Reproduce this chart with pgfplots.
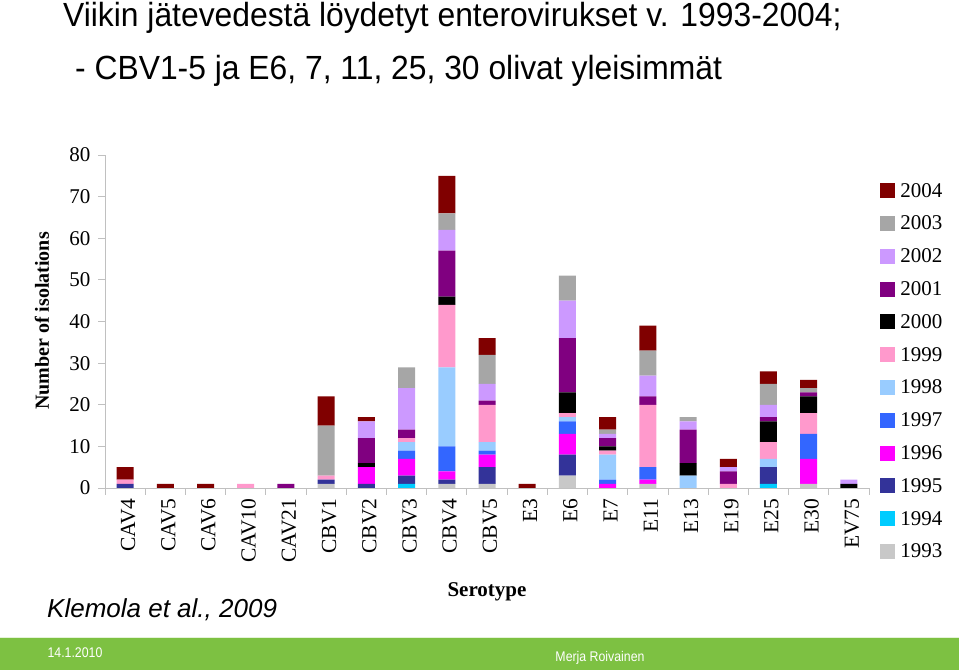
\documentclass[border=0pt]{standalone}
\usepackage{pgfplots}
\pgfplotsset{compat=1.18}
\usepackage{pgfplotstable}
\usepackage{fontspec}
\setmainfont{Liberation Serif}
\newfontfamily\titlefont[FakeStretch=0.95]{Liberation Sans}
\newfontfamily\footfont[FakeStretch=0.88]{Liberation Sans}
\newfontfamily\arialfont{Liberation Sans}
\definecolor{c2004}{HTML}{800000}
\definecolor{c2003}{HTML}{A6A6A6}
\definecolor{c2002}{HTML}{CC99FF}
\definecolor{c2001}{HTML}{800080}
\definecolor{c2000}{HTML}{000000}
\definecolor{c1999}{HTML}{FF99CC}
\definecolor{c1998}{HTML}{99CCFF}
\definecolor{c1997}{HTML}{3366FF}
\definecolor{c1996}{HTML}{FF00FF}
\definecolor{c1995}{HTML}{333399}
\definecolor{c1994}{HTML}{00CCFF}
\definecolor{c1993}{HTML}{C8C8C8}
\definecolor{axisgray}{HTML}{C0C0C0}
\definecolor{footgreen}{HTML}{7DC142}
\pgfplotstableread{
x  a1993 a1994 a1995 a1996 a1997 a1998 a1999 a2000 a2001 a2002 a2003 a2004
0  0 0 1 0 0 0 1 0 0 0 0 3
1  0 0 0 0 0 0 0 0 0 0 0 1
2  0 0 0 0 0 0 0 0 0 0 0 1
3  0 0 0 0 0 0 1 0 0 0 0 0
4  0 0 0 0 0 0 0 0 1 0 0 0
5  1 0 1 0 0 0 1 0 0 0 12 7
6  0 0 1 4 0 0 0 1 6 4 0 1
7  0 1 2 4 2 2 1 0 2 10 5 0
8  1 0 1 2 6 19 15 2 11 5 4 9
9  1 0 4 3 1 2 9 0 1 4 7 4
10 0 0 0 0 0 0 0 0 0 0 0 1
11 3 0 5 5 3 1 1 5 13 9 6 0
12 0 0 0 1 1 6 1 1 2 1 1 3
13 1 0 0 1 3 0 15 0 2 5 6 6
14 0 0 0 0 0 3 0 3 8 2 1 0
15 0 0 0 0 0 0 1 0 3 1 0 2
16 0 1 4 0 0 2 4 5 1 3 5 3
17 1 0 0 6 6 0 5 4 1 0 1 2
18 0 0 0 0 0 0 0 1 0 1 0 0
}\data
\begin{document}
\begin{tikzpicture}[x=1pt,y=1pt]
\useasboundingbox (0,0) rectangle (959,670);
% titles
\node[anchor=base west, inner sep=0pt, font=\titlefont\fontsize{33.5pt}{33.5pt}\selectfont] at (63,643) {Viikin jätevedestä löydetyt enterovirukset v. 1993-2004;};
\node[anchor=base west, inner sep=0pt, font=\titlefont\fontsize{33.5pt}{33.5pt}\selectfont] at (75,590) {- CBV1-5 ja E6, 7, 11, 25, 30 olivat yleisimmät};
\begin{axis}[
  at={(105pt,182pt)}, anchor=south west,
  scale only axis, width=764pt, height=333pt,
  ybar stacked, bar width=17pt,
  xmin=-0.5, xmax=18.5, ymin=0, ymax=80,
  axis x line*=bottom, axis y line*=left,
  axis line style={draw=axisgray, line width=0.8pt},
  ytick={0,10,...,80},
  xtick=data,
  xticklabels={CAV4,CAV5,CAV6,CAV10,CAV21,CBV1,CBV2,CBV3,CBV4,CBV5,E3,E6,E7,E11,E13,E19,E25,E30,EV75},
  minor xtick={-0.5,0.5,...,18.5},
  major x tick style={draw=none},
  minor x tick style={draw=axisgray, line width=0.8pt},
  ytick style={draw=axisgray, line width=0.8pt},
  tick align=outside, major tick length=7pt, minor tick length=7pt,
  /pgf/number format/assume math mode=true,
  yticklabel style={font=\fontsize{21pt}{21pt}\selectfont, xshift=-4pt},
  xticklabel style={font=\fontsize{21.5pt}{21.5pt}\selectfont, rotate=90, anchor=east, yshift=-3pt},
  reverse legend,
  legend style={draw=none, fill=none, at={(axis description cs:1.0145,0.919)}, anchor=north west,
    inner sep=0pt, row sep=13.8pt, font=\fontsize{21pt}{21pt}\selectfont,
    nodes={inner sep=1pt, text height=14pt, text depth=3pt, anchor=base west}},
  legend cell align=left,
  legend image code/.code={\fill[#1, draw=none] (0pt,-1pt) rectangle (15pt,14pt); \path (19pt,0pt);},
  every axis plot/.append style={draw=none},
]
\addplot[fill=c1993] table[x=x,y=a1993]{\data};
\addplot[fill=c1994] table[x=x,y=a1994]{\data};
\addplot[fill=c1995] table[x=x,y=a1995]{\data};
\addplot[fill=c1996] table[x=x,y=a1996]{\data};
\addplot[fill=c1997] table[x=x,y=a1997]{\data};
\addplot[fill=c1998] table[x=x,y=a1998]{\data};
\addplot[fill=c1999] table[x=x,y=a1999]{\data};
\addplot[fill=c2000] table[x=x,y=a2000]{\data};
\addplot[fill=c2001] table[x=x,y=a2001]{\data};
\addplot[fill=c2002] table[x=x,y=a2002]{\data};
\addplot[fill=c2003] table[x=x,y=a2003]{\data};
\addplot[fill=c2004] table[x=x,y=a2004]{\data};
\legend{1993,1994,1995,1996,1997,1998,1999,2000,2001,2002,2003,2004}
\end{axis}
\node[rotate=90, font=\bfseries\fontsize{20pt}{20pt}\selectfont] at (42,349) {Number of isolations};
\node[font=\bfseries\fontsize{21pt}{21pt}\selectfont] at (487,78) {Serotype};
\node[anchor=west, inner sep=0pt, font=\arialfont\itshape\fontsize{26pt}{26pt}\selectfont] at (47,60) {Klemola et al., 2009};
% footer
\fill[footgreen] (0,0) rectangle (959,33);
\draw[white!80!footgreen, line width=1pt] (0,33) -- (959,33);
\node[text=white, font=\footfont\fontsize{14pt}{14pt}\selectfont] at (75,17) {14.1.2010};
\node[text=white, font=\footfont\fontsize{14pt}{14pt}\selectfont] at (600,12) {Merja Roivainen};
\end{tikzpicture}
\end{document}
